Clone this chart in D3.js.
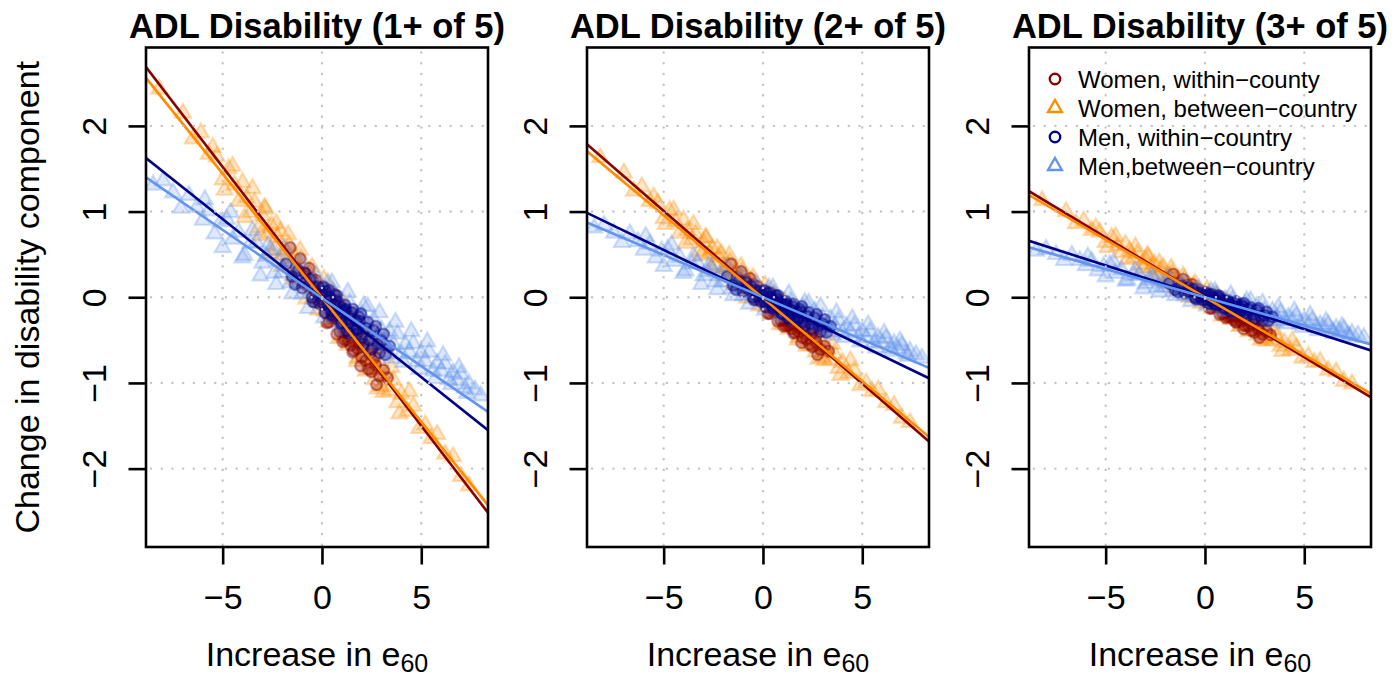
<!DOCTYPE html>
<html><head><meta charset="utf-8">
<script src="https://cdn.jsdelivr.net/npm/d3@7"></script>
<style>
body{margin:0;background:#fff}
svg{display:block}
text{font-family:"Liberation Sans",Arial,Helvetica,sans-serif;fill:#000}
</style>
</head><body><svg id="chart" width="1394" height="676"></svg>
<script>
// ---- panels, ticks, series ----
const panelTitles = ["ADL Disability (1+ of 5)", "ADL Disability (2+ of 5)", "ADL Disability (3+ of 5)"];
const xTicks = [-5, 0, 5];
const yTicks = [-2, -1, 0, 1, 2];
const xDomain = [-8.86, 8.36];
const yDomain = [-2.915, 2.915];
const seriesNames = ["Women, within\u2212county", "Women, between\u2212country", "Men, within\u2212country", "Men,between\u2212country"];
const seriesColors = ["#8B0000", "#FF8C00", "#00008B", "#6495ED"];
const seriesShapes = ["circle", "triangle", "circle", "triangle"];

// Women, between-country (triangles)
const womenBetweenX = [-8.2,-7.0,-6.5,-6.1,-5.7,-5.3,-5.0,-4.7,-4.4,-4.2,-4.0,-3.8,-3.6,-3.4,-3.2,-3.0,-2.85,-2.7,-2.55,-2.4,-2.25,-2.1,-1.95,-1.8,-1.65,-1.5,-1.35,-1.2,-1.05,-0.9,-0.75,-0.6,-0.45,-0.3,-0.15,0,0.15,0.3,0.45,0.6,0.75,0.9,1.05,1.2,1.35,1.5,1.65,1.8,1.95,2.1,2.25,2.4,2.55,2.7,2.85,3.0,3.2,3.4,3.6,3.8,4.0,4.3,4.6,4.9,5.2,5.5,5.8,6.2,6.6,7.0,7.4,
  -4.5,-3.9,-3.5,-3.1,-2.9,-2.6,-2.3,-2.0,-1.7,-1.4,-1.1,-0.8,-0.5,-0.2,0.1,0.35,0.55,0.85,1.1,1.3,1.55,1.75,2.0,2.2,2.45,2.65,2.9,3.1,3.5,3.9,4.4,-5.5,-4.9,0.7,1.9,2.8];
const womenBetweenY1 = [2.43,2.15,1.85,1.92,1.67,1.64,1.37,1.50,1.31,1.12,1.34,1.16,0.99,1.11,0.81,0.95,1.03,0.75,0.84,0.55,0.70,0.77,0.49,0.54,0.61,0.26,0.46,0.33,0.45,0.16,0.26,0.28,-0.01,0.15,-0.02,0.09,-0.16,-0.06,0.01,-0.26,-0.24,-0.16,-0.46,-0.30,-0.50,-0.36,-0.52,-0.71,-0.51,-0.69,-0.53,-0.84,-0.72,-0.84,-0.74,-1.04,-0.89,-1.09,-0.97,-1.23,-1.13,-1.33,-1.27,-1.53,-1.49,-1.65,-1.60,-1.83,-1.86,-2.09,-2.20,
  1.53,0.93,1.27,0.72,1.05,0.51,0.86,0.36,0.73,0.21,0.55,-0.02,0.35,-0.15,0.21,-0.29,0.06,-0.48,-0.07,-0.56,-0.24,-0.75,-0.38,-0.86,-0.48,-0.96,-0.60,-1.11,-0.82,-1.36,-1.10,1.75,1.25,-0.01,-0.33,-1.07];
const womenBetweenY2 = [1.63,1.45,1.24,1.29,1.12,1.10,0.92,1.01,0.88,0.75,0.90,0.78,0.67,0.74,0.54,0.64,0.69,0.51,0.56,0.37,0.47,0.51,0.33,0.36,0.41,0.17,0.31,0.22,0.30,0.11,0.18,0.19,0.00,0.10,-0.01,0.06,-0.11,-0.04,0.00,-0.18,-0.16,-0.11,-0.31,-0.20,-0.33,-0.24,-0.35,-0.47,-0.34,-0.46,-0.36,-0.56,-0.49,-0.57,-0.50,-0.70,-0.60,-0.73,-0.66,-0.83,-0.76,-0.89,-0.86,-1.03,-1.00,-1.10,-1.08,-1.23,-1.26,-1.41,-1.46,
  1.02,0.63,0.85,0.49,0.70,0.35,0.57,0.25,0.49,0.14,0.36,-0.01,0.23,-0.10,0.14,-0.19,0.04,-0.32,-0.05,-0.37,-0.17,-0.50,-0.26,-0.57,-0.33,-0.64,-0.41,-0.74,-0.55,-0.91,-0.74,1.17,0.85,-0.01,-0.23,-0.72];
const womenBetweenY3 = [1.13,1.00,0.86,0.89,0.78,0.76,0.64,0.70,0.60,0.52,0.62,0.54,0.46,0.51,0.38,0.44,0.47,0.35,0.39,0.25,0.32,0.35,0.23,0.25,0.28,0.12,0.21,0.15,0.21,0.08,0.12,0.13,0.00,0.07,-0.01,0.04,-0.08,-0.03,0.00,-0.12,-0.11,-0.08,-0.21,-0.14,-0.23,-0.17,-0.24,-0.33,-0.23,-0.32,-0.25,-0.39,-0.33,-0.39,-0.35,-0.48,-0.41,-0.50,-0.46,-0.57,-0.53,-0.62,-0.59,-0.71,-0.69,-0.76,-0.75,-0.85,-0.87,-0.98,-1.01,
  0.71,0.44,0.59,0.34,0.49,0.24,0.40,0.17,0.34,0.10,0.25,0.00,0.16,-0.07,0.09,-0.13,0.03,-0.22,-0.04,-0.26,-0.11,-0.34,-0.18,-0.40,-0.23,-0.44,-0.28,-0.51,-0.38,-0.63,-0.51,0.81,0.58,-0.01,-0.16,-0.50];

// Men, between-country (triangles)
const menBetweenX = [-8.5,-8.0,-7.5,-7.1,-6.7,-6.3,-6.0,-5.7,-5.4,-5.1,-4.8,-4.5,-4.2,-3.9,-3.6,-3.3,-3.0,-2.8,-2.6,-2.4,-2.2,-2.0,-1.8,-1.6,-1.4,-1.2,-1.0,-0.8,-0.6,-0.4,-0.2,0,0.2,0.4,0.6,0.8,1.0,1.2,1.4,1.6,1.8,2.0,2.2,2.4,2.6,2.8,3.0,3.2,3.4,3.6,3.8,4.0,4.2,4.4,4.6,4.8,5.0,5.2,5.4,5.6,5.8,6.0,6.2,6.4,6.6,6.8,7.0,7.2,7.4,7.7,8.0,
  -5.9,-5.0,-4.6,-4.0,-3.5,-3.1,-2.7,-2.3,-1.9,-1.5,-1.1,-0.7,-0.3,0.1,0.5,0.9,1.3,1.7,2.1,2.5,2.9,3.3,3.7,4.1,4.5,4.9,5.3,5.7,6.1,6.5,6.9,7.3,0.3,1.1,2.3,3.5];
const menBetweenY1 = [1.31,1.36,1.22,1.04,1.19,1.05,0.90,1.01,0.74,0.88,0.91,0.68,0.76,0.49,0.63,0.64,0.40,0.48,0.55,0.28,0.42,0.29,0.41,0.17,0.26,0.29,0.04,0.19,0.05,0.15,-0.05,0.03,0.08,-0.13,0.03,-0.15,-0.08,-0.29,-0.07,-0.24,-0.35,-0.20,-0.30,-0.46,-0.26,-0.45,-0.38,-0.56,-0.40,-0.55,-0.43,-0.66,-0.55,-0.64,-0.54,-0.75,-0.65,-0.75,-0.64,-0.86,-0.77,-0.86,-0.78,-0.96,-0.88,-0.97,-0.90,-1.06,-1.01,-1.08,-1.15,
  1.14,0.58,0.99,0.46,0.78,0.25,0.61,0.15,0.56,0.04,0.41,-0.13,0.25,-0.24,0.17,-0.32,0.06,-0.43,-0.10,-0.54,-0.18,-0.65,-0.29,-0.76,-0.40,-0.84,-0.52,-0.95,-0.68,-1.02,-0.82,-1.12,0.17,-0.38,-0.11,-0.71];
const menBetweenY2 = [0.81,0.84,0.75,0.64,0.74,0.65,0.55,0.62,0.46,0.54,0.56,0.42,0.47,0.31,0.39,0.40,0.25,0.30,0.34,0.18,0.26,0.18,0.25,0.10,0.16,0.18,0.02,0.12,0.03,0.09,-0.03,0.02,0.05,-0.08,0.02,-0.09,-0.05,-0.18,-0.05,-0.15,-0.22,-0.12,-0.19,-0.29,-0.16,-0.28,-0.24,-0.35,-0.25,-0.34,-0.27,-0.41,-0.34,-0.40,-0.33,-0.46,-0.40,-0.47,-0.40,-0.53,-0.47,-0.53,-0.48,-0.59,-0.54,-0.60,-0.56,-0.66,-0.63,-0.67,-0.71,
  0.71,0.36,0.61,0.28,0.48,0.15,0.38,0.09,0.35,0.02,0.25,-0.08,0.15,-0.15,0.11,-0.20,0.04,-0.27,-0.06,-0.33,-0.11,-0.40,-0.18,-0.47,-0.25,-0.52,-0.32,-0.59,-0.42,-0.63,-0.51,-0.69,0.11,-0.23,-0.07,-0.44];
const menBetweenY3 = [0.54,0.56,0.50,0.43,0.49,0.43,0.37,0.42,0.31,0.36,0.38,0.28,0.32,0.20,0.26,0.26,0.16,0.20,0.23,0.12,0.18,0.12,0.17,0.07,0.11,0.12,0.02,0.08,0.02,0.07,-0.02,0.01,0.03,-0.06,0.02,-0.06,-0.03,-0.12,-0.03,-0.10,-0.14,-0.08,-0.13,-0.19,-0.11,-0.19,-0.16,-0.23,-0.16,-0.23,-0.18,-0.27,-0.23,-0.27,-0.22,-0.31,-0.27,-0.31,-0.27,-0.35,-0.32,-0.36,-0.32,-0.40,-0.36,-0.40,-0.37,-0.44,-0.42,-0.44,-0.47,
  0.47,0.24,0.41,0.19,0.32,0.10,0.25,0.06,0.23,0.02,0.17,-0.05,0.10,-0.10,0.07,-0.14,0.03,-0.18,-0.04,-0.22,-0.07,-0.27,-0.12,-0.31,-0.16,-0.35,-0.21,-0.39,-0.28,-0.42,-0.34,-0.46,0.07,-0.16,-0.04,-0.29];

// Women, within-country (circles)
const womenWithinX = [-1.6,-1.3,-1.1,-0.9,-0.7,-0.5,-0.4,-0.3,-0.2,-0.1,0,0.1,0.2,0.3,0.4,0.5,0.6,0.7,0.8,0.9,1.0,1.1,1.2,1.3,1.4,1.5,1.6,1.7,1.8,1.9,2.0,2.1,2.2,2.4,2.5,2.7,2.9,3.1,1.25,0.65,
  0.15,0.35,0.55,0.75,0.95,1.15,1.35,1.55,1.75,1.95,2.15,2.35,2.55,2.75,0.25,0.85,1.45,2.05,2.65,-0.35,-0.65,-0.95,3.3,1.05];
const womenWithinY1 = [0.58,0.34,0.45,0.29,0.13,0.22,0.09,0.20,-0.04,0.07,-0.06,0.06,-0.18,-0.06,-0.04,-0.24,-0.13,-0.25,-0.14,-0.40,-0.28,-0.40,-0.27,-0.50,-0.38,-0.47,-0.62,-0.44,-0.60,-0.54,-0.70,-0.58,-0.74,-0.66,-0.87,-0.79,-0.92,-0.85,-0.42,-0.17,
  0.11,-0.29,-0.05,-0.43,-0.12,-0.50,-0.22,-0.64,-0.39,-0.80,-0.49,-0.84,-0.59,-1.02,-0.30,-0.06,-0.56,-0.41,-0.70,-0.06,0.34,0.17,-0.94,-0.52];
const womenWithinY2 = [0.39,0.23,0.30,0.19,0.09,0.15,0.06,0.13,-0.03,0.05,-0.04,0.04,-0.12,-0.04,-0.03,-0.16,-0.09,-0.17,-0.10,-0.27,-0.19,-0.27,-0.18,-0.33,-0.26,-0.31,-0.41,-0.30,-0.40,-0.36,-0.47,-0.39,-0.49,-0.44,-0.58,-0.53,-0.61,-0.57,-0.28,-0.11,
  0.07,-0.19,-0.03,-0.28,-0.08,-0.33,-0.15,-0.42,-0.26,-0.53,-0.33,-0.55,-0.39,-0.67,-0.19,-0.04,-0.37,-0.27,-0.47,-0.03,0.22,0.11,-0.63,-0.34];
const womenWithinY3 = [0.27,0.16,0.21,0.14,0.06,0.10,0.04,0.09,-0.02,0.03,-0.03,0.03,-0.08,-0.03,-0.02,-0.11,-0.06,-0.12,-0.07,-0.19,-0.13,-0.18,-0.13,-0.23,-0.18,-0.22,-0.29,-0.21,-0.28,-0.25,-0.33,-0.27,-0.34,-0.31,-0.41,-0.37,-0.43,-0.40,-0.20,-0.08,
  0.05,-0.13,-0.02,-0.20,-0.06,-0.23,-0.10,-0.29,-0.18,-0.37,-0.23,-0.39,-0.28,-0.47,-0.13,-0.03,-0.26,-0.19,-0.33,-0.02,0.15,0.08,-0.44,-0.24];

// Men, within-country (circles)
const menWithinX = [-1.8,-1.5,-1.2,-1.0,-0.8,-0.6,-0.5,-0.4,-0.3,-0.2,-0.1,0,0.1,0.2,0.3,0.4,0.5,0.6,0.7,0.8,0.9,1.0,1.1,1.2,1.3,1.4,1.5,1.6,1.7,1.8,1.9,2.0,2.2,2.4,2.6,2.8,3.0,3.2,0.45,1.15,
  0.15,0.35,0.55,0.75,0.95,1.15,1.35,1.55,1.75,1.95,2.1,2.3,2.5,2.7,2.9,3.1,-0.45,-0.85,-1.35,0.65,1.25,1.85,3.4,0.05];
const menWithinY1 = [0.39,0.24,0.31,0.11,0.18,0.21,0.00,0.12,0.04,0.12,-0.08,0.04,-0.08,0.07,-0.09,0.00,-0.20,-0.09,-0.04,-0.20,-0.11,-0.30,-0.17,-0.14,-0.31,-0.25,-0.18,-0.38,-0.27,-0.37,-0.28,-0.47,-0.36,-0.50,-0.39,-0.55,-0.51,-0.67,-0.15,-0.15,
  -0.18,0.08,-0.22,0.02,-0.31,-0.09,-0.42,-0.14,-0.43,-0.19,-0.55,-0.29,-0.61,-0.34,-0.65,-0.43,-0.05,0.28,0.15,0.03,-0.39,-0.23,-0.57,0.12];
const menWithinY2 = [0.24,0.14,0.19,0.07,0.11,0.13,0.00,0.08,0.02,0.07,-0.05,0.02,-0.05,0.05,-0.05,0.00,-0.12,-0.06,-0.02,-0.12,-0.06,-0.19,-0.10,-0.08,-0.19,-0.15,-0.11,-0.24,-0.17,-0.23,-0.17,-0.29,-0.22,-0.31,-0.24,-0.33,-0.31,-0.41,-0.09,-0.09,
  -0.11,0.05,-0.14,0.02,-0.19,-0.05,-0.26,-0.08,-0.26,-0.11,-0.33,-0.18,-0.37,-0.20,-0.40,-0.26,-0.03,0.17,0.09,0.02,-0.24,-0.14,-0.34,0.08];
const menWithinY3 = [0.16,0.09,0.13,0.05,0.07,0.09,0.00,0.05,0.01,0.05,-0.03,0.02,-0.03,0.03,-0.04,0.00,-0.08,-0.04,-0.01,-0.08,-0.04,-0.12,-0.07,-0.06,-0.13,-0.10,-0.07,-0.16,-0.11,-0.15,-0.11,-0.19,-0.14,-0.20,-0.15,-0.22,-0.21,-0.27,-0.06,-0.06,
  -0.07,0.03,-0.09,0.01,-0.13,-0.04,-0.17,-0.05,-0.18,-0.07,-0.22,-0.12,-0.25,-0.13,-0.27,-0.17,-0.02,0.11,0.06,0.02,-0.16,-0.09,-0.23,0.05];

// Fitted lines: one slope/intercept per panel for each series
const womenWithinSlope = [-0.302, -0.2015, -0.1398];
const womenWithinIntercept = [0.01, 0.0, 0.0];
const womenBetweenSlope = [-0.2896, -0.1936, -0.1346];
const womenBetweenIntercept = [-0.006, -0.011, 0.0];
const menWithinSlope = [-0.1844, -0.1121, -0.0743];
const menWithinIntercept = [-0.01, -0.008, 0.0];
const menBetweenSlope = [-0.159, -0.0985, -0.0658];
const menBetweenIntercept = [-0.009, 0.0, 0.0];

// ---- layout ----
const panelLeft = [146, 587, 1029];
const plotW = 342, plotTop = 47.5, plotBottom = 547;
const svg = d3.select("#chart");

const zip = (xs, ys) => xs.map((x, i) => [x, ys[i]]);
const panelData = [0, 1, 2].map(p => ({
  womenBetween: zip(womenBetweenX, [womenBetweenY1, womenBetweenY2, womenBetweenY3][p]),
  womenWithin: zip(womenWithinX, [womenWithinY1, womenWithinY2, womenWithinY3][p]),
  menBetween: zip(menBetweenX, [menBetweenY1, menBetweenY2, menBetweenY3][p]),
  menWithin: zip(menWithinX, [menWithinY1, menWithinY2, menWithinY3][p]),
  lines: [
    {slope: womenWithinSlope[p], icpt: womenWithinIntercept[p], color: seriesColors[0]},
    {slope: womenBetweenSlope[p], icpt: womenBetweenIntercept[p], color: seriesColors[1]},
    {slope: menWithinSlope[p], icpt: menWithinIntercept[p], color: seriesColors[2]},
    {slope: menBetweenSlope[p], icpt: menBetweenIntercept[p], color: seriesColors[3]}
  ]
}));

// open triangle (pch 2 style), centred on its centroid
const triR = 9.2;
const triPath = `M0,${-triR}L${triR*0.866},${triR/2}L${-triR*0.866},${triR/2}Z`;

panelData.forEach((d, p) => {
  const left = panelLeft[p];
  const x = d3.scaleLinear().domain(xDomain).range([left, left + plotW]);
  const y = d3.scaleLinear().domain(yDomain).range([plotBottom, plotTop]);
  const g = svg.append("g");

  const clipId = "clip" + p;
  svg.append("clipPath").attr("id", clipId).append("rect")
    .attr("x", left).attr("y", plotTop).attr("width", plotW).attr("height", plotBottom - plotTop);
  const inner = g.append("g").attr("clip-path", `url(#${clipId})`);

  const drawTriangles = (pts, color) => {
    inner.append("g").selectAll("path").data(pts).join("path")
      .attr("d", triPath)
      .attr("transform", v => `translate(${x(v[0])},${y(v[1])})`)
      .attr("fill", color).attr("fill-opacity", 0.22)
      .attr("stroke", color).attr("stroke-opacity", 0.3).attr("stroke-width", 2.2);
  };
  const drawCircles = (pts, color) => {
    inner.append("g").selectAll("circle").data(pts).join("circle")
      .attr("cx", v => x(v[0])).attr("cy", v => y(v[1])).attr("r", 5.5)
      .attr("fill", color).attr("fill-opacity", 0.3)
      .attr("stroke", color).attr("stroke-opacity", 0.42).attr("stroke-width", 2.2);
  };
  drawTriangles(d.womenBetween, seriesColors[1]);
  drawCircles(d.womenWithin, seriesColors[0]);
  drawTriangles(d.menBetween, seriesColors[3]);
  drawCircles(d.menWithin, seriesColors[2]);

  // fitted lines across the whole x range
  inner.append("g").selectAll("line").data(d.lines).join("line")
    .attr("x1", x(xDomain[0])).attr("x2", x(xDomain[1]))
    .attr("y1", l => y(l.icpt + l.slope * xDomain[0]))
    .attr("y2", l => y(l.icpt + l.slope * xDomain[1]))
    .attr("stroke", l => l.color).attr("stroke-width", 2.6);

  // dotted reference grid
  const grid = inner.append("g").attr("stroke", "#c4c4c4").attr("stroke-width", 2.4)
    .attr("stroke-linecap", "round").attr("stroke-dasharray", "0.1 10.6");
  grid.selectAll(".gv").data(xTicks).join("line").attr("class", "gv")
    .attr("x1", v => x(v)).attr("x2", v => x(v)).attr("y1", plotTop + 5).attr("y2", plotBottom);
  grid.selectAll(".gh").data(yTicks).join("line").attr("class", "gh")
    .attr("y1", v => y(v)).attr("y2", v => y(v)).attr("x1", left + 5).attr("x2", left + plotW);

  // frame
  g.append("rect").attr("x", left).attr("y", plotTop).attr("width", plotW).attr("height", plotBottom - plotTop)
    .attr("fill", "none").attr("stroke", "#000").attr("stroke-width", 2.6);

  // axes
  const xAxis = d3.axisBottom(x).tickValues(xTicks).tickSize(17.5).tickPadding(9)
    .tickFormat(v => v < 0 ? "\u2212" + Math.abs(v) : String(v));
  const xa = g.append("g").attr("transform", `translate(0,${plotBottom})`).call(xAxis);
  xa.select(".domain").remove();
  xa.selectAll(".tick line").attr("stroke", "#000").attr("stroke-width", 2.6);
  xa.selectAll(".tick text").attr("font-size", 34).attr("dy", 0).attr("y", 62)
    .attr("font-family", "'Liberation Sans',Arial,sans-serif");

  const yAxis = d3.axisLeft(y).tickValues(yTicks).tickSize(17.5)
    .tickFormat(v => v < 0 ? "\u2212" + Math.abs(v) : String(v));
  const ya = g.append("g").attr("transform", `translate(${left},0)`).call(yAxis);
  ya.select(".domain").remove();
  ya.selectAll(".tick line").attr("stroke", "#000").attr("stroke-width", 2.6);
  ya.selectAll(".tick text").attr("font-size", 34).attr("x", 0).attr("dy", 0)
    .attr("text-anchor", "middle")
    .attr("transform", "translate(-40,0) rotate(-90)")
    .attr("font-family", "'Liberation Sans',Arial,sans-serif");

  // title
  g.append("text").attr("x", left + plotW / 2).attr("y", 38)
    .attr("text-anchor", "middle").attr("font-size", 34.5).attr("font-weight", "bold")
    .text(panelTitles[p]);

  // x label with subscript
  const xl = g.append("text").attr("x", left + plotW / 2).attr("y", 666)
    .attr("text-anchor", "middle").attr("font-size", 34);
  xl.append("tspan").text("Increase in e");
  xl.append("tspan").attr("font-size", 25).attr("dy", 6).text("60");
});

// shared y label
svg.append("text").attr("transform", `translate(39,${(plotTop + plotBottom) / 2}) rotate(-90)`)
  .attr("text-anchor", "middle").attr("font-size", 34)
  .text("Change in disability component");

// legend in the last panel
const leg = svg.append("g").attr("transform", "translate(1055,79)");
seriesNames.forEach((name, i) => {
  const row = leg.append("g").attr("transform", `translate(0,${i * 29})`);
  if (seriesShapes[i] === "circle") {
    row.append("circle").attr("r", 5.2).attr("fill", "none")
      .attr("stroke", seriesColors[i]).attr("stroke-width", 2.4);
  } else {
    row.append("path").attr("d", `M0,-8L6.9,4L-6.9,4Z`).attr("fill", "none")
      .attr("stroke", seriesColors[i]).attr("stroke-width", 2.4);
  }
  row.append("text").attr("x", 23).attr("y", 8.5).attr("font-size", 24).text(name);
});
</script>
</body></html>
